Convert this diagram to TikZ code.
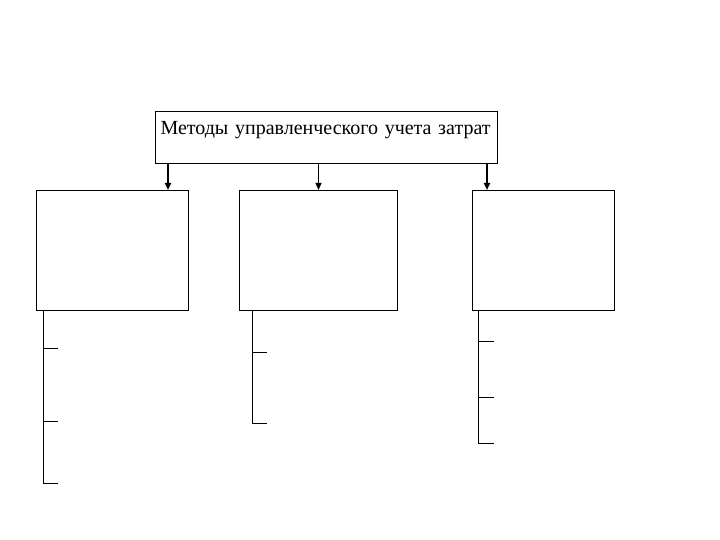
\documentclass[tikz,border=0pt]{standalone}
\usepackage{fontspec}
\setmainfont{Liberation Serif}
\usetikzlibrary{arrows.meta}
\tikzset{
  box/.style={draw, line width=1pt, inner sep=0pt},
  arr/.style={-{Triangle[length=7pt,width=6pt]}, line width=#1},
  arr/.default=1pt
}
% vertical line under a box with short ticks
\newcommand{\branch}[5]{
  \coordinate (#1x) at (#2,0);
  \draw[line width=1pt] (#1.south -| #1x) -- (#2,#3);
  \foreach \t in {#4} {
    \draw[line width=1pt] (#2,\t) -- +(#5,0);
  }
}

\begin{document}
\begin{tikzpicture}[x=1pt,y=-1pt]
  \useasboundingbox (0,0) rectangle (720,540);

  \node[box, anchor=north west, text width=332pt, align=left,
        inner xsep=5pt, text height=23pt, text depth=29pt, font=\fontsize{20}{22}\selectfont]
        (top) at (155,111) {Методы управленческого учета затрат};

  \node[box, anchor=north west, minimum width=152pt, minimum height=120pt] (b1) at (36,190) {};
  \node[box, anchor=north west, minimum width=158pt, minimum height=120pt] (b2) at (239,190) {};
  \node[box, anchor=north west, minimum width=142pt, minimum height=120pt] (b3) at (472,190) {};

  \coordinate (a1) at (168,190);
  \coordinate (a3) at (487,190);
  \draw[arr=2pt] (top.south -| a1) -- (a1);
  \draw[arr] (top.south -| b2.north) -- (b2.north);
  \draw[arr=2pt] (top.south -| a3) -- (a3);

  \branch{b1}{43}{483}{348,421,483}{15}
  \branch{b2}{252}{423}{352,423}{15}
  \branch{b3}{478}{443}{341,397,443}{16}
\end{tikzpicture}
\end{document}
